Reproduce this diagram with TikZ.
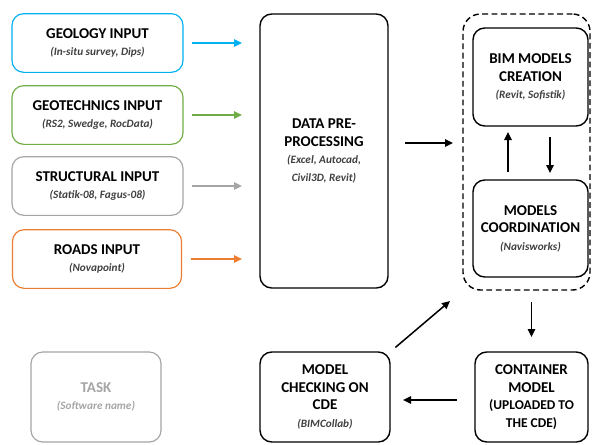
\documentclass[tikz,border=0pt]{standalone}
\usepackage{fontspec}
\setmainfont{Carlito}
\usetikzlibrary{arrows.meta,calc,positioning}
\definecolor{geoblue}{HTML}{00B0F0}
\definecolor{geogreen}{HTML}{70AD47}
\definecolor{strgrey}{HTML}{A5A5A5}
\definecolor{roadorange}{HTML}{ED7D31}
\definecolor{subgrey}{HTML}{404040}
\newcommand{\swfont}{\fontsize{9.6}{12}\selectfont\bfseries\itshape\color{subgrey}}
\newcommand{\swname}[1]{{\swfont(#1)}}

\begin{document}
\begin{tikzpicture}[
      x=0.03cm, y=-0.03cm,
      taskbox/.style={draw, rounded corners=10pt, line width=1pt, align=center, inner sep=0pt, outer sep=0pt, font=\fontsize{12.8}{15}\selectfont\bfseries},
      input/.style={taskbox, minimum width=5.13cm, minimum height=1.76cm},
      stage/.style={taskbox, line width=1.2pt},
      arr/.style={-{Triangle[length=2.4mm, width=2.2mm]}, line width=1.3pt},
      inarr/.style={arr, line width=2pt, shorten <=9*0.03cm, shorten >=18*0.03cm}
  ]
    \useasboundingbox (0,0) rectangle (592,444);

    % inputs
    \node[input, draw=geoblue] (geo) at (97.5,43) {GEOLOGY INPUT\\ \swname{In-situ survey, Dips}};
    \node[input, draw=geogreen] (geotech) at (97.5,115) {GEOTECHNICS INPUT\\ \swname{RS2, Swedge, RocData}};
    \node[input, draw=strgrey] (struct) at (97.5,186) {STRUCTURAL INPUT\\ \swname{Statik-08, Fagus-08}};
    \node[input, draw=roadorange, minimum width=5.07cm] (roads) at (97,259) {ROADS INPUT\\ \swname{Novapoint}};

    % legend
    \node[taskbox, draw=strgrey, text=strgrey, minimum width=3.9cm, minimum height=2.7cm] (task) at (96,397)
      {TASK\\ {\fontsize{9.6}{12}\selectfont\bfseries\itshape (Software name)}};

    % processing
    \node[stage, minimum width=3.84cm, minimum height=8.22cm] (data) at (324,151)
      {DATA PRE-\\PROCESSING\\ {\swfont (Excel, Autocad,}\\ {\swfont Civil3D, Revit)}};

    % models group
    \node[draw, dash pattern=on 5pt off 3pt, line width=1.2pt, rounded corners=15pt, inner sep=0pt, outer sep=0pt, minimum width=3.81cm, minimum height=8.28cm] (grp) at (526.5,152) {};
    \node[stage, minimum width=3.45cm, minimum height=2.94cm] (bim) at (530.5,77)
      {BIM MODELS\\CREATION\\ \swname{Revit, Sofistik}};
    \node[stage, minimum width=3.45cm, minimum height=2.91cm] (coord) at (530.5,228.5)
      {MODELS\\COORDINATION\\ \swname{Navisworks}};

    % cde
    \node[stage, minimum width=3.39cm, minimum height=2.7cm] (cont) at (531.5,397)
      {CONTAINER\\MODEL\\ {\fontsize{11.5}{13.5}\selectfont (UPLOADED TO}\\ {\fontsize{11.5}{13.5}\selectfont THE CDE)}};
    \node[stage, minimum width=3.9cm, minimum height=2.7cm] (check) at (325,397)
      {MODEL\\CHECKING ON\\CDE\\ \swname{BIMCollab}};

    \draw[inarr, geoblue] (geo.east) -- (geo.east -| data.west);
    \draw[inarr, geogreen] (geotech.east) -- (geotech.east -| data.west);
    \draw[inarr, strgrey] (struct.east) -- (struct.east -| data.west);
    \draw[inarr, roadorange] (roads.east) -- (roads.east -| data.west);

    \draw[arr, shorten <=17*0.03cm, shorten >=10*0.03cm] (data.east |- 0,143) -- (grp.west |- 0,143);
    \draw[arr, shorten <=8*0.03cm, shorten >=6*0.03cm] ($(coord.north)+(-22.5,0)$) -- ($(bim.south)+(-22.5,0)$);
    \draw[arr, shorten <=11*0.03cm, shorten >=7*0.03cm] ($(bim.south)+(19.5,0)$) -- ($(coord.north)+(19.5,0)$);
    \draw[arr, shorten <=12*0.03cm, shorten >=15*0.03cm] (grp.south -| cont.north) -- (cont.north);
    \draw[arr, shorten <=18*0.03cm, shorten >=13*0.03cm] (cont.west |- 0,400) -- (check.east |- 0,400);
    \draw[arr, shorten <=7*0.03cm, shorten >=17*0.03cm] (check.north east) -- (grp.south west);
  \end{tikzpicture}
\end{document}
